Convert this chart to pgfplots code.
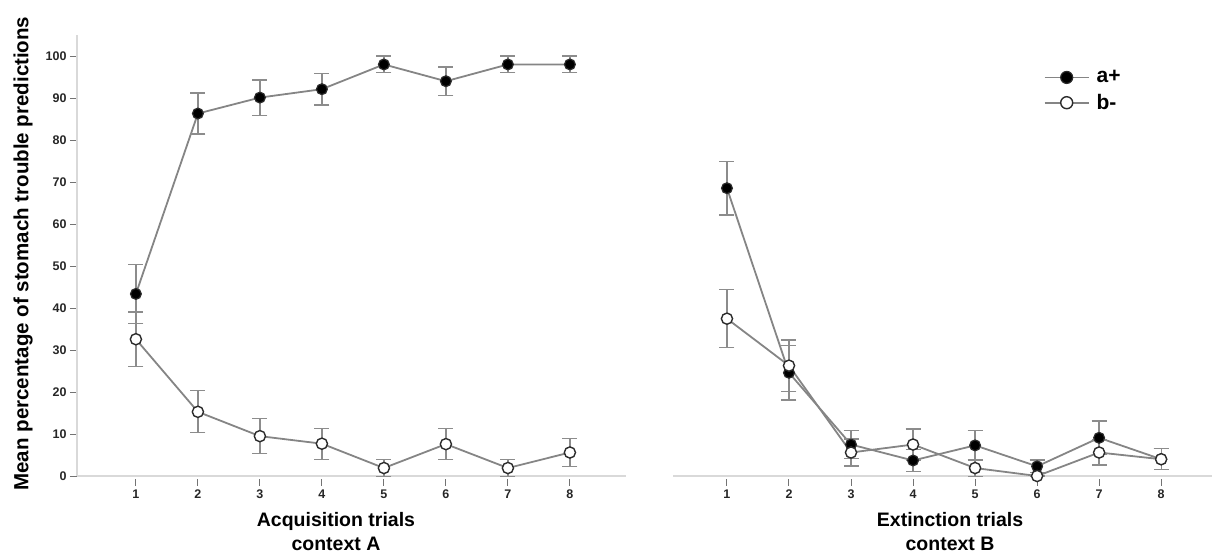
\documentclass[border=0pt]{standalone}
\usepackage{fontspec}
\setmainfont{Liberation Sans}
\usepackage{pgfplots}
\usepackage{pgfplotstable}
\pgfplotsset{compat=1.18}
\definecolor{ln}{HTML}{858585}
\definecolor{eb}{HTML}{8C8C8C}
\definecolor{axl}{HTML}{D9D9D9}
\definecolor{mk}{HTML}{2B2B2B}

\pgfplotstableread{
x y e
1 43.4 7.0
2 86.4 4.9
3 90.2 4.2
4 92.2 3.8
5 98.1 2.0
6 94.1 3.4
7 98.1 2.0
8 98.1 2.0
}\acqA
\pgfplotstableread{
x y e
1 32.6 6.5
2 15.3 5.0
3 9.5 4.2
4 7.7 3.7
5 1.9 2.0
6 7.6 3.7
7 1.9 2.0
8 5.6 3.3
}\acqB
\pgfplotstableread{
x y e
1 68.6 6.4
2 24.6 6.5
3 7.5 3.4
4 3.7 2.6
5 7.3 3.5
6 2.3 1.5
7 9.1 4.0
8 4.0 2.5
}\extA
\pgfplotstableread{
x y e
1 37.5 6.9
2 26.3 6.1
3 5.6 3.2
4 7.5 3.7
5 1.9 2.0
6 0.0 0.0
7 5.6 3.0
8 4.0 2.5
}\extB

\pgfplotsset{
 common/.style={
  scale only axis, height=440.5pt, ymin=0, ymax=105, clip=false,
  xtick={1,...,8},
  tick label style={font=\fontsize{12.5}{13}\selectfont\bfseries, text=black!85},
  /pgf/number format/assume math mode=true,
  tick align=outside, major tick length=7pt,
  tick style={color=black!55, line width=1pt},
  xtick style={yshift=-3pt},
  xticklabel style={yshift=-3pt},
  axis line style={axl, line width=1.5pt},
  xlabel style={font=\fontsize{19.5}{23.5}\selectfont\bfseries, align=center, anchor=north},
 },
 aplus/.style={ln, line width=1.8pt, mark=*, mark size=5.4pt,
   mark options={fill=black, draw=mk, line width=1.2pt}},
 bminus/.style={ln, line width=1.8pt, mark=*, mark size=5.6pt,
   mark options={fill=white, draw=mk, line width=1.4pt}},
 errs/.style={error bars/y dir=both, error bars/y explicit,
   error bars/error bar style={eb, line width=1.3pt},
   error bars/error mark options={rotate=90, mark size=7.5pt, eb, line width=1.3pt}},
}

\begin{document}
\begin{tikzpicture}[x=1pt,y=1pt]
\useasboundingbox (0,0) rectangle (1212,554);
\begin{axis}[common,
  at={(77pt,78pt)}, anchor=origin,
  width=548.7pt, xmin=0.05, xmax=8.9,
  axis x line*=bottom, axis y line*=left,
  ytick={0,10,...,100},
  xlabel={Acquisition trials\\context A},
  xlabel style={at={(axis description cs:0.472,0)}, yshift=-33pt},
  ylabel={Mean percentage of stomach trouble predictions},
  ylabel style={font=\fontsize{20.5}{24}\selectfont\bfseries, at={(axis description cs:-0.098,0.505)}, anchor=center},
]
\addplot[aplus, errs] table[x=x, y=y, y error=e] {\acqA};
\addplot[bminus, errs] table[x=x, y=y, y error=e] {\acqB};
\end{axis}
\begin{axis}[common,
  at={(673pt,78pt)}, anchor=origin,
  width=539pt, xmin=0.13, xmax=8.82,
  axis x line*=bottom, axis y line=none,
  xlabel={Extinction trials\\context B},
  xlabel style={at={(axis description cs:0.514,0)}, yshift=-33pt},
  legend style={at={(axis description cs:0.682,0.93)}, anchor=north west,
    draw=none, fill=none, font=\fontsize{21}{24}\selectfont\bfseries, row sep=6pt},
  legend cell align=left,
  legend image code/.code={\draw[mark repeat=2,mark phase=2,#1] plot coordinates {(0pt,0pt) (22pt,0pt) (44pt,0pt)};},
]
\addplot[aplus, errs, forget plot] table[x=x, y=y, y error=e] {\extA};
\addplot[bminus, errs, forget plot] table[x=x, y=y, y error=e] {\extB};
\addlegendimage{aplus, mark size=6pt}
\addlegendentry{\hspace{5pt}a+}
\addlegendimage{bminus, mark size=6pt}
\addlegendentry{\hspace{5pt}b-}
\end{axis}
\end{tikzpicture}
\end{document}
